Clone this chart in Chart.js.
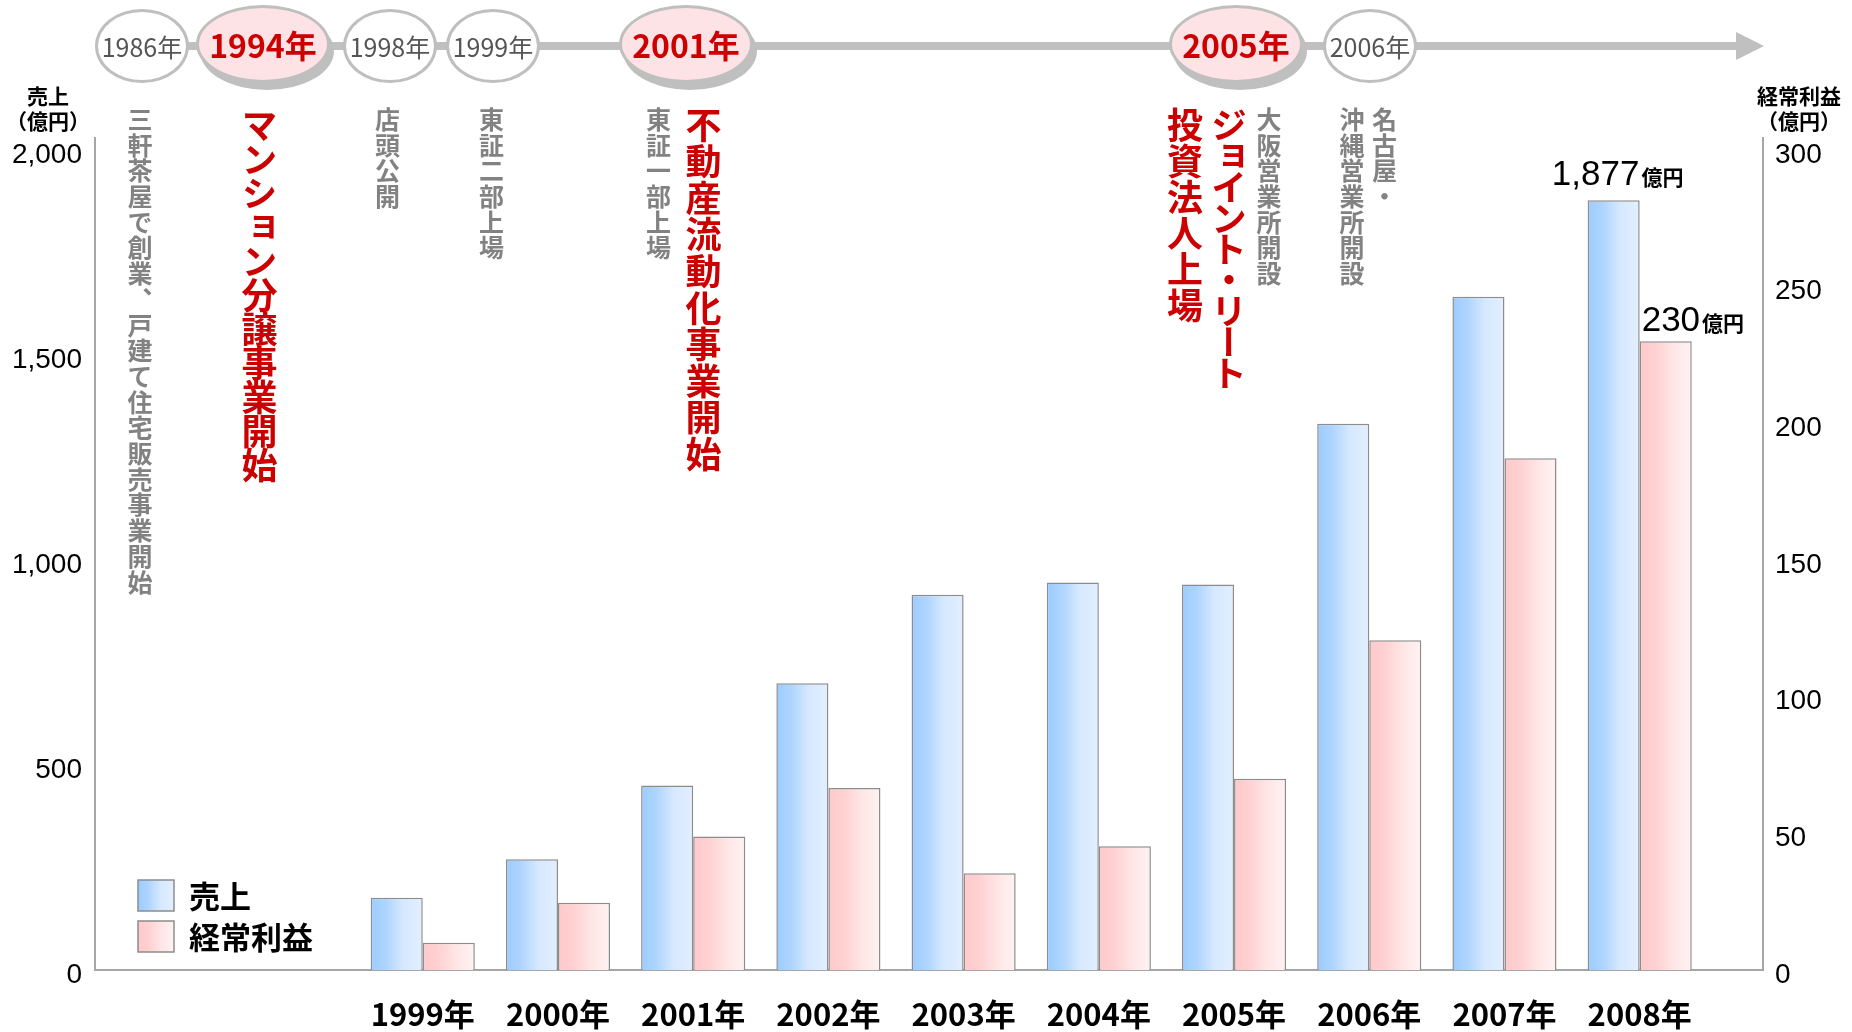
<!DOCTYPE html>
<html>
<head>
<meta charset="utf-8">
<title>売上・経常利益の推移</title>
<script src="https://cdn.jsdelivr.net/npm/chart.js@4"></script>
<style>
  body { margin: 0; background: #fff; font-family: "Noto Sans CJK JP", sans-serif; }
  #wrap { position: relative; width: 1852px; height: 1032px; overflow: hidden; }
  #wrap canvas { position: absolute; left: 0; top: 0; }
  .tl-line { position: absolute; left: 142px; top: 42px; width: 1596px; height: 8px; background: #c0c0c0; }
  .tl-arrow { position: absolute; left: 1736px; top: 32px; width: 0; height: 0;
    border-left: 28px solid #c0c0c0; border-top: 14px solid transparent; border-bottom: 14px solid transparent; }
  .yr { position: absolute; box-sizing: border-box; border-radius: 50%;
    display: flex; align-items: center; justify-content: center; white-space: nowrap; }
  .yr.small { width: 94px; height: 74px; top: 9px; margin-left: -47px; background: #fff;
    border: 3.5px solid #bfbfbf; color: #555; font-size: 25px; }
  .yr.big { width: 134px; height: 78px; top: 5px; margin-left: -67px; background: #fde3e5;
    border: 3px solid #bfbfbf; box-shadow: 4px 7px 0 #bfbfbf; color: #cc0000; font-size: 32px; font-weight: bold; }
  .note { position: absolute; top: 107px; writing-mode: vertical-rl; font-weight: bold; white-space: nowrap; }
  .note.gray { color: #828282; font-size: 25px; line-height: 25px; width: 25px; margin-left: -12.5px; letter-spacing: 0.7px; }
  .note.red { color: #cc0000; font-size: 36px; line-height: 36px; width: 36px; margin-left: -18px; }
  .unit { position: absolute; top: 83px; width: 110px; margin-left: -55px; text-align: center;
    font-size: 21px; font-weight: bold; line-height: 25px; color: #000; }
</style>
</head>
<body>
<div id="wrap">
  <canvas id="chart"></canvas>

  <!-- 年表 -->
  <div class="tl-line"></div>
  <div class="tl-arrow"></div>
  <div class="yr small" style="left:142px">1986年</div>
  <div class="yr big" style="left:263px">1994年</div>
  <div class="yr small" style="left:390px">1998年</div>
  <div class="yr small" style="left:493px">1999年</div>
  <div class="yr big" style="left:686px">2001年</div>
  <div class="yr big" style="left:1236px">2005年</div>
  <div class="yr small" style="left:1370px">2006年</div>

  <div class="note gray" style="left:139.5px">三軒茶屋で創業、戸建て住宅販売事業開始</div>
  <div class="note red" style="left:259.5px; letter-spacing:-2px">マンション分譲事業開始</div>
  <div class="note gray" style="left:387px">店頭公開</div>
  <div class="note gray" style="left:491px">東証二部上場</div>
  <div class="note gray" style="left:658px">東証一部上場</div>
  <div class="note red" style="left:703.5px; letter-spacing:0.6px">不動産流動化事業開始</div>
  <div class="note red" style="left:1185px">投資法人上場</div>
  <div class="note red" style="left:1229px; letter-spacing:-5px">ジョイント・リート</div>
  <div class="note gray" style="left:1268.5px">大阪営業所開設</div>
  <div class="note gray" style="left:1351.5px">沖縄営業所開設</div>
  <div class="note gray" style="left:1384px">名古屋・</div>

  <div class="unit" style="left:48px">売上<br>（億円）</div>
  <div class="unit" style="left:1799px">経常利益<br>（億円）</div>
</div>

<script>
  // データ
  const years = [1999, 2000, 2001, 2002, 2003, 2004, 2005, 2006, 2007, 2008];
  const sales = [176, 270, 450, 699, 915, 945, 940, 1332, 1642, 1877];
  const profit = [10, 24.6, 48.8, 66.6, 35.4, 45.3, 70, 120.6, 187.2, 230];
  const salesTicks = [0, 500, 1000, 1500, 2000];
  const profitTicks = [0, 50, 100, 150, 200, 250, 300];
  const seriesNames = ['売上', '経常利益'];
  const unitLabel = '億円';

  const groupShare = 0.77;
  const blueStops = [[0, '#9ccbff'], [0.3, '#afd5ff'], [0.62, '#d6e8ff'], [1, '#e2efff']];
  const pinkStops = [[0, '#ffc9ca'], [0.3, '#ffd1d2'], [0.65, '#ffe6e6'], [1, '#fff2f2']];
  const edge = '#8c8c8c';
  const axisGray = '#a6a6a6';

  // 棒ごとの横グラデーション
  function barFill(stops, side) {
    return (c) => {
      const chart = c.chart, xs = chart.scales.x;
      if (!chart.chartArea || !xs || c.type !== 'data') return stops[0][1];
      const mid = xs.getPixelForValue(c.raw.x);
      const half = (xs.getPixelForValue(c.raw.x + 1) - mid) * groupShare / 2;
      const x0 = side < 0 ? mid - half : mid;
      const g = chart.ctx.createLinearGradient(x0, 0, x0 + half, 0);
      stops.forEach(([o, col]) => g.addColorStop(o, col));
      return g;
    };
  }

  // 凡例（グラフ内左下）
  const boxLegend = {
    id: 'boxLegend',
    afterDraw(chart) {
      const {ctx, chartArea} = chart;
      const fills = [blueStops, pinkStops];
      ctx.save();
      chart.data.datasets.forEach((ds, i) => {
        const x = chartArea.left + 43, y = chartArea.bottom - 90 + i * 41;
        const g = ctx.createLinearGradient(x, 0, x + 36, 0);
        fills[i].forEach(([o, col]) => g.addColorStop(o, col));
        ctx.fillStyle = g;
        ctx.fillRect(x, y, 36, 31);
        ctx.strokeStyle = edge;
        ctx.lineWidth = 1.5;
        ctx.strokeRect(x, y, 36, 31);
        ctx.fillStyle = '#000';
        ctx.font = 'bold 31px "Noto Sans CJK JP"';
        ctx.textBaseline = 'middle';
        ctx.fillText(ds.label, x + 51, y + 16);
      });
      ctx.restore();
    }
  };

  // 2008年の値ラベル
  const endLabels = {
    id: 'endLabels',
    afterDatasetsDraw(chart) {
      const ctx = chart.ctx;
      const last = years.length - 1;
      ctx.save();
      ctx.fillStyle = '#000';
      ctx.textBaseline = 'alphabetic';
      ctx.textAlign = 'left';
      [0, 1].forEach(di => {
        const bar = chart.getDatasetMeta(di).data[last];
        const num = chart.data.datasets[di].data[last].y.toLocaleString('en-US');
        ctx.font = '35px "Liberation Sans"';
        const w1 = ctx.measureText(num).width;
        ctx.font = 'bold 21px "Noto Sans CJK JP"';
        const w2 = ctx.measureText(unitLabel).width;
        let left, base;
        if (di === 0) {
          left = bar.x + 4 - (w1 + 2 + w2) / 2;
          base = bar.y - 15;
        } else {
          left = bar.x - bar.width / 2 + 2;
          base = bar.y - 10;
        }
        ctx.font = '35px "Liberation Sans"';
        ctx.fillText(num, left, base);
        ctx.font = 'bold 21px "Noto Sans CJK JP"';
        ctx.fillText(unitLabel, left + w1 + 2, base);
      });
      ctx.restore();
    }
  };

  Chart.defaults.font.family = '"Noto Sans CJK JP", sans-serif';

  new Chart(document.getElementById('chart'), {
    type: 'bar',
    data: {
      datasets: [
        {
          label: seriesNames[0],
          data: years.map((y, i) => ({x: y, y: sales[i]})),
          yAxisID: 'y',
          backgroundColor: barFill(blueStops, -1),
          borderColor: edge,
          borderWidth: 1.5
        },
        {
          label: seriesNames[1],
          data: years.map((y, i) => ({x: y, y: profit[i]})),
          yAxisID: 'y1',
          backgroundColor: barFill(pinkStops, 1),
          borderColor: edge,
          borderWidth: 1.5
        }
      ]
    },
    options: {
      responsive: true,
      maintainAspectRatio: false,
      animation: false,
      events: [],
      categoryPercentage: groupShare,
      barPercentage: 1,
      layout: { padding: { top: 138, left: 0, right: 0, bottom: 0 } },
      plugins: { legend: { display: false }, tooltip: { enabled: false } },
      scales: {
        x: {
          type: 'linear',
          offset: false,
          min: 1996.576,
          max: 2008.912,
          afterBuildTicks: s => { s.ticks = years.map(v => ({value: v})); },
          afterFit: s => { s.height = 62; },
          grid: { display: false, drawTicks: false },
          border: { display: true, color: axisGray, width: 2 },
          ticks: {
            autoSkip: false, maxRotation: 0, minRotation: 0, padding: 26,
            color: '#000', font: { size: 31, weight: 'bold' },
            callback: v => v + '年'
          }
        },
        y: {
          position: 'left',
          min: 0,
          max: 2029,
          afterBuildTicks: s => { s.ticks = salesTicks.map(v => ({value: v})); },
          afterFit: s => { s.width = 95; },
          grid: { display: false, drawTicks: false },
          border: { display: true, color: axisGray, width: 2 },
          ticks: {
            padding: 13, color: '#000', labelOffset: 5,
            font: { family: '"Liberation Sans"', size: 28 },
            callback: v => v.toLocaleString('en-US')
          }
        },
        y1: {
          position: 'right',
          min: 0,
          max: 2029 * 0.15,
          afterBuildTicks: s => { s.ticks = profitTicks.map(v => ({value: v})); },
          afterFit: s => { s.width = 89; },
          grid: { display: false, drawTicks: false },
          border: { display: true, color: axisGray, width: 2 },
          ticks: {
            padding: 12, color: '#000', labelOffset: 5,
            font: { family: '"Liberation Sans"', size: 28 },
            callback: v => String(v)
          }
        }
      }
    },
    plugins: [boxLegend, endLabels]
  });
</script>
</body>
</html>
